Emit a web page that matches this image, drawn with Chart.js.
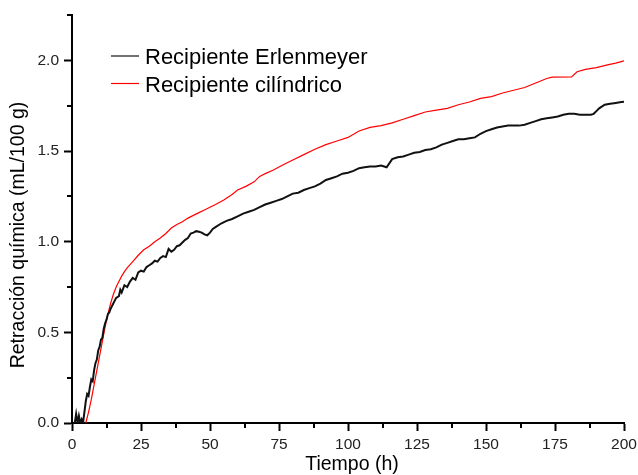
<!DOCTYPE html>
<html>
<head>
<meta charset="utf-8">
<script src="https://cdn.jsdelivr.net/npm/chart.js@4/dist/chart.umd.min.js"></script>
<style>
  body { margin: 0; background: #fff; }
  canvas { display: block; }
</style>
</head>
<body>
<canvas id="chart" width="638" height="475"></canvas>
<script>
// Series labels and axis titles
var seriesNames = ['Recipiente Erlenmeyer', 'Recipiente cilíndrico'];
var xTitle = 'Tiempo (h)';
var yTitle = 'Retracción química (mL/100 g)';

// Tick values
var xMajorTicks = [0, 25, 50, 75, 100, 125, 150, 175, 200];
var xMinorTicks = [12.5, 37.5, 62.5, 87.5, 112.5, 137.5, 162.5, 187.5];
var yMajorTicks = [0, 0.5, 1.0, 1.5, 2.0];
var yMinorTicks = [0.25, 0.75, 1.25, 1.75, 2.25];

// Erlenmeyer (black)
var erlTime = [1, 1.5, 2, 2.5, 3, 3.5, 4, 4.5, 5, 5.5, 6, 6.5, 7, 7.5, 8, 8.5, 9, 9.5, 10, 10.5,
    11, 11.5, 12, 12.5, 13, 13.5, 14, 15, 16, 17, 17.5, 18, 19, 20, 21, 22, 23, 24, 25, 26,
    27, 28, 29, 30, 31, 32, 33, 34, 35, 36, 37, 38, 39, 40, 41, 42, 43, 44, 45, 46,
    47, 48, 49, 50, 51, 52, 54, 56, 58, 60, 62, 64, 66, 68, 70, 72, 74, 76, 78, 80,
    82, 84, 86, 88, 90, 92, 94, 96, 98, 100, 102, 104, 106, 108, 110, 112, 114, 116, 118, 120,
    122, 124, 126, 128, 130, 132, 134, 136, 138, 140, 142, 144, 146, 148, 150, 152, 154, 156, 158, 160,
    162, 164, 166, 168, 170, 172, 174, 176, 178, 180, 182, 184, 186, 188, 189, 190, 191, 193, 195, 197,
    199, 200];
var erlValues = [0.00, 0.05, 0.00, 0.04, 0.00, 0.02, 0.00, 0.06, 0.12, 0.16, 0.15, 0.20, 0.24, 0.23, 0.29, 0.33, 0.35, 0.40, 0.42, 0.46,
    0.47, 0.52, 0.55, 0.57, 0.60, 0.61, 0.63, 0.66, 0.69, 0.70, 0.735, 0.72, 0.76, 0.75, 0.78, 0.80, 0.79, 0.83, 0.84, 0.835,
    0.86, 0.87, 0.88, 0.895, 0.89, 0.91, 0.92, 0.915, 0.96, 0.945, 0.955, 0.975, 0.98, 0.995, 1.01, 1.02, 1.045, 1.05, 1.058, 1.055,
    1.05, 1.04, 1.035, 1.05, 1.07, 1.08, 1.10, 1.115, 1.125, 1.14, 1.155, 1.165, 1.175, 1.19, 1.205, 1.215, 1.225, 1.235, 1.25, 1.265,
    1.27, 1.285, 1.295, 1.305, 1.32, 1.34, 1.35, 1.36, 1.375, 1.38, 1.39, 1.405, 1.41, 1.415, 1.415, 1.42, 1.41, 1.455, 1.465, 1.47,
    1.48, 1.49, 1.495, 1.505, 1.51, 1.52, 1.535, 1.545, 1.555, 1.565, 1.565, 1.57, 1.575, 1.595, 1.61, 1.62, 1.63, 1.635, 1.64, 1.64,
    1.64, 1.645, 1.655, 1.665, 1.675, 1.68, 1.685, 1.69, 1.70, 1.705, 1.705, 1.70, 1.70, 1.70, 1.705, 1.72, 1.735, 1.755, 1.76, 1.765,
    1.77, 1.772];

// Cilíndrico (red)
var cilTime = [5, 6, 7, 8, 9, 10, 11, 12, 13, 14, 15, 16, 17, 18, 19, 20, 22, 24, 26, 28,
    30, 32, 34, 36, 38, 40, 42, 44, 46, 48, 50, 52, 55, 58, 60, 63, 66, 68, 70, 73,
    76, 80, 84, 88, 92, 96, 100, 104, 108, 112, 116, 120, 124, 128, 132, 136, 140, 144, 148, 152,
    156, 160, 164, 168, 172, 174, 181, 183, 186, 190, 194, 197, 200];
var cilValues = [0.00, 0.06, 0.13, 0.21, 0.29, 0.37, 0.45, 0.53, 0.60, 0.66, 0.71, 0.75, 0.78, 0.81, 0.835, 0.855, 0.89, 0.925, 0.955, 0.975,
    1.00, 1.02, 1.045, 1.075, 1.095, 1.11, 1.13, 1.145, 1.16, 1.175, 1.19, 1.205, 1.23, 1.26, 1.285, 1.305, 1.33, 1.36, 1.375, 1.395,
    1.42, 1.45, 1.48, 1.51, 1.535, 1.555, 1.575, 1.61, 1.63, 1.64, 1.655, 1.675, 1.695, 1.715, 1.725, 1.735, 1.755, 1.77, 1.79, 1.80,
    1.82, 1.835, 1.85, 1.875, 1.90, 1.907, 1.909, 1.937, 1.95, 1.96, 1.975, 1.985, 1.997];

function toPoints(xs, ys) {
    return xs.map(function (x, i) { return { x: x, y: ys[i] }; });
}

var FONT = "'Liberation Sans', Arial, sans-serif";

// Minor ticks, axis titles and the legend drawn onto the canvas
var decorations = {
    id: 'decorations',
    afterDraw: function (chart) {
        var ctx = chart.ctx;
        var xs = chart.scales.x, ys = chart.scales.y;
        var area = chart.chartArea;
        ctx.save();
        ctx.strokeStyle = '#000';
        ctx.lineWidth = 2;
        xMinorTicks.forEach(function (v) {
            var px = Math.round(xs.getPixelForValue(v));
            ctx.beginPath();
            ctx.moveTo(px, area.bottom);
            ctx.lineTo(px, area.bottom + 5);
            ctx.stroke();
        });
        yMinorTicks.forEach(function (v) {
            var py = Math.round(ys.getPixelForValue(v));
            ctx.beginPath();
            ctx.moveTo(area.left, py);
            ctx.lineTo(area.left - 5, py);
            ctx.stroke();
        });

        // axis titles
        ctx.fillStyle = '#000';
        ctx.font = '19.5px ' + FONT;
        ctx.textAlign = 'center';
        ctx.textBaseline = 'middle';
        ctx.fillText(xTitle, 352, 465);
        ctx.translate(19, 235);
        ctx.rotate(-Math.PI / 2);
        ctx.fillText(yTitle, 0, 0);
        ctx.restore();

        // legend
        ctx.save();
        ctx.font = '22px ' + FONT;
        ctx.textAlign = 'left';
        ctx.textBaseline = 'alphabetic';
        chart.data.datasets.forEach(function (ds, i) {
            var y = 56 + i * 27.5;
            ctx.strokeStyle = ds.borderColor;
            ctx.lineWidth = 1.2;
            ctx.beginPath();
            ctx.moveTo(111, y);
            ctx.lineTo(139, y);
            ctx.stroke();
            ctx.fillStyle = '#000';
            ctx.fillText(ds.label, 145, y + 8);
        });
        ctx.restore();
    }
};

var chart = new Chart(document.getElementById('chart').getContext('2d'), {
    type: 'line',
    data: {
        datasets: [{
            label: seriesNames[0],
            data: toPoints(erlTime, erlValues),
            borderColor: '#111',
            borderWidth: 2,
            pointRadius: 0,
            tension: 0
        }, {
            label: seriesNames[1],
            data: toPoints(cilTime, cilValues),
            borderColor: '#ff0000',
            borderWidth: 1.2,
            pointRadius: 0,
            tension: 0
        }]
    },
    options: {
        responsive: false,
        animation: false,
        layout: { padding: { top: 15, right: 14, left: 0, bottom: 0 } },
        plugins: {
            legend: { display: false },
            tooltip: { enabled: false }
        },
        scales: {
            x: {
                type: 'linear',
                min: 0,
                max: 200,
                afterBuildTicks: function (axis) {
                    axis.ticks = xMajorTicks.map(function (v) { return { value: v }; });
                },
                afterFit: function (scale) {
                    scale.height = 52;
                    scale.paddingLeft = 0;
                    scale.paddingRight = 0;
                },
                grid: { drawOnChartArea: false, drawTicks: true, tickLength: 8, tickWidth: 2, tickColor: '#000' },
                border: { display: true, width: 2, color: '#000' },
                ticks: {
                    padding: 4,
                    maxRotation: 0,
                    color: '#222',
                    font: { family: FONT, size: 15.5 }
                },
                title: { display: false }
            },
            y: {
                type: 'linear',
                min: 0,
                max: 2.25,
                afterBuildTicks: function (axis) {
                    axis.ticks = yMajorTicks.map(function (v) { return { value: v }; });
                },
                afterFit: function (scale) {
                    scale.width = 72;
                    scale.paddingTop = 0;
                    scale.paddingBottom = 0;
                },
                grid: { drawOnChartArea: false, drawTicks: true, tickLength: 8, tickWidth: 2, tickColor: '#000' },
                border: { display: true, width: 2, color: '#000' },
                ticks: {
                    padding: 5,
                    color: '#222',
                    font: { family: FONT, size: 15.5 },
                    callback: function (v) { return v.toFixed(1); }
                },
                title: { display: false }
            }
        }
    },
    plugins: [decorations]
});
</script>
</body>
</html>
